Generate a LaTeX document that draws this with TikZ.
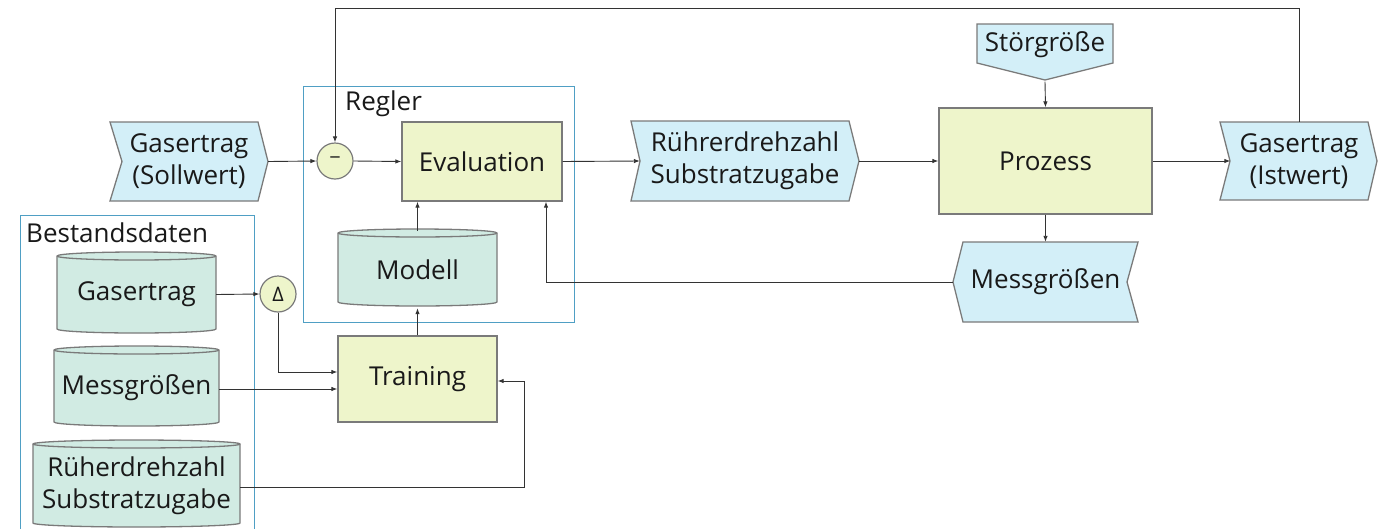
\documentclass[tikz,border=0pt]{standalone}
\usepackage{fontspec}
\setmainfont{Open Sans}
\usetikzlibrary{arrows.meta,calc}
\definecolor{cblue}{HTML}{D3EFF8}
\definecolor{cyel}{HTML}{EEF5CB}
\definecolor{cmint}{HTML}{D1EBE3}
\definecolor{cedge}{HTML}{7A7A7A}
\definecolor{cframe}{HTML}{4F9FC4}
\definecolor{cline}{HTML}{333333}
\newcommand\dbcyl[6]{%
  \pgfmathsetmacro\cxa{(#2+#4)/2}%
  \pgfmathsetmacro\crx{(#4-#2)/2}%
  \pgfmathsetmacro\cya{(#3+#5)/2+2}%
  \pgfmathsetmacro\cw{#4-#2}%
  \pgfmathsetmacro\ch{#5-#3}%
  \path[cylbody] (#2,#3+4) -- (#2,#5-4) arc[start angle=180,end angle=360,x radius=\crx pt,y radius=4pt]
     -- (#4,#3+4) arc[start angle=0,end angle=180,x radius=\crx pt,y radius=4pt] -- cycle;
  \draw[cylline] (#2,#3+4) arc[start angle=180,end angle=360,x radius=\crx pt,y radius=4pt];
  \node[lbl, minimum width=\cw pt, minimum height=\ch pt] (#1) at (\cxa,\cya) {#6};
}
\begin{document}
\begin{tikzpicture}[x=1pt,y=-1pt,
  every node/.style={font=\fontsize{26}{32}\selectfont, text=black!90},
  lbl/.style={inner sep=0pt, align=center},
  proc/.style={draw=cedge, line width=1.3pt, fill=cyel, inner sep=0pt, align=center},
  frame/.style={draw=cframe, line width=1pt},
  sig/.style={fill=cblue, draw=cedge, line width=1.3pt},
  cylbody/.style={fill=cmint, draw=cedge, line width=1.3pt},
  cylline/.style={draw=cedge, line width=1.3pt},
  conn/.style={draw=cline, line width=0.9pt, -{Latex[length=6pt,width=4.5pt]}},
  sumnode/.style={circle, draw=cedge, fill=cyel, line width=1.2pt, minimum size=36pt, inner sep=0pt, font=\fontsize{20}{20}\selectfont}]
\useasboundingbox (0,0) rectangle (1378,528);
\clip (0,0) rectangle (1378,528);
\fill[white] (0,0) rectangle (1378,528);

% frames
\draw[frame] (303,86) rectangle (574,322);
\draw[frame] (20,215) rectangle (254,545);
\node[lbl, anchor=west] (rl) at (345,104) {Regler};
\node[lbl, anchor=west] (bl) at (26,233) {Bestandsdaten};

% signal shapes
\path[sig] (110,122) -- (258,122) -- (268,161.5) -- (258,201) -- (110,201) -- (122,161.5) -- cycle;
\node[lbl, minimum width=158pt, minimum height=79pt] (sw) at (189,161.5) {Gasertrag\\(Sollwert)};
\path[sig] (631,121) -- (849,121) -- (859,161) -- (849,201) -- (631,201) -- (640,161) -- cycle;
\node[lbl, minimum width=228pt, minimum height=80pt] (rs) at (745,161) {Rührerdrehzahl\\Substratzugabe};
\path[sig] (1220,122) -- (1368,122) -- (1377,161) -- (1368,200) -- (1220,200) -- (1230,161) -- cycle;
\node[lbl, minimum width=157pt, minimum height=78pt] (iw) at (1299,161) {Gasertrag\\(Istwert)};
\path[sig] (963,242) -- (1138,242) -- (1127,282) -- (1138,322) -- (963,322) -- (953,282) -- cycle;
\node[lbl, minimum width=185pt, minimum height=80pt] (ms) at (1045.5,282) {Messgrößen};
\path[sig] (977,24) -- (1113,24) -- (1113,63) -- (1045,80) -- (977,63) -- cycle;
\node[lbl, minimum width=136pt, minimum height=39pt] (sg) at (1045,45) {Störgröße};

% process boxes
\node[proc, minimum width=160pt, minimum height=79pt] (ev) at (482,161.5) {Evaluation};
\node[proc, minimum width=213pt, minimum height=106pt] (pr) at (1045.5,161) {Prozess};
\node[proc, minimum width=159pt, minimum height=86pt] (tr) at (417.5,379) {Training};
\node[sumnode] (mi) at (335,161) {−};
\node[sumnode] (de) at (278,294) {Δ};

% cylinders
\dbcyl{mo}{338}{229}{497}{306}{Modell}
\dbcyl{gc}{57}{252}{216}{333}{Gasertrag}
\dbcyl{mc}{54}{346}{219}{426}{Messgrößen}
\dbcyl{rc}{33}{440}{240}{527}{Rüherdrehzahl\\Substratzugabe}

% connectors
\coordinate (tl) at (335,8);
\draw[conn] (sw.east) -- (mi.west);
\draw[conn] (mi.east) -- (ev.west);
\draw[conn] (iw.north) |- (tl) -- (mi.north);
\draw[conn] (ev.east) -- ($(rs.west)+(9,0)$);
\draw[conn] (rs.east) -- (pr.west);
\draw[conn] ($(sg.south)+(0,17)$) -- (pr.north);
\draw[conn] (pr.east) -- ($(iw.west)+(10,0)$);
\draw[conn] (pr.south) -- (ms.north);
\draw[conn] (ms.west) -| ($(ev.south)+(64,0)$);
\draw[conn] (mo.north) -- (mo.north |- ev.south);
\draw[conn] (tr.north) -- (mo.south);
\draw[conn] (gc.east) -- (de.west);
\draw[conn] (de.south) |- ($(tr.west)+(0,-7)$);
\draw[conn] ($(mc.east)+(0,1)$) -- ($(tr.west)+(0,10)$);
\draw[conn] ($(rc.east)+(0,1.5)$) -| ($(tr.east)+(27,2)$) -- ($(tr.east)+(0,2)$);
\end{tikzpicture}
\end{document}
